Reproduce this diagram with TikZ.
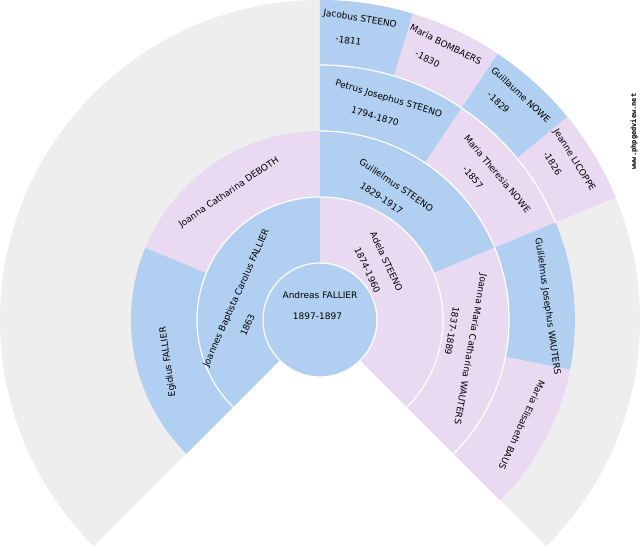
\documentclass[tikz,border=0pt]{standalone}
\usepackage{fontspec}
\setmainfont{DejaVu Sans}
\setmonofont{DejaVu Sans Mono}
\definecolor{maleblue}{HTML}{B1CFF0}
\definecolor{femalepink}{HTML}{E9DAF1}
\definecolor{emptygrey}{HTML}{EEEEEE}

\begin{document}
\begin{tikzpicture}[x=1pt, y=1pt,
    male/.style={fill=maleblue},
    female/.style={fill=femalepink},
    person/.style={inner sep=0pt, font=\fontsize{9}{10}\selectfont},
    ringedge/.style={white, line width=1.2pt}]
    \useasboundingbox (-320,-230) rectangle (320,320);

    % the empty fan
    \fill[emptygrey] (0,0) -- (-45:320) arc[start angle=-45, end angle=225, radius=320] -- cycle;

    % parents
    \fill[male] (90:57) arc[start angle=90, end angle=225, radius=57] -- (225:123) arc[start angle=225, end angle=90, radius=123] -- cycle;
    \fill[female] (-45:57) arc[start angle=-45, end angle=90, radius=57] -- (90:123) arc[start angle=90, end angle=-45, radius=123] -- cycle;

    % grandparents
    \fill[male] (157.5:123) arc[start angle=157.5, end angle=225, radius=123] -- (225:189) arc[start angle=225, end angle=157.5, radius=189] -- cycle;
    \fill[female] (90:123) arc[start angle=90, end angle=157.5, radius=123] -- (157.5:189) arc[start angle=157.5, end angle=90, radius=189] -- cycle;
    \fill[male] (22.5:123) arc[start angle=22.5, end angle=90, radius=123] -- (90:189) arc[start angle=90, end angle=22.5, radius=189] -- cycle;
    \fill[female] (-45:123) arc[start angle=-45, end angle=22.5, radius=123] -- (22.5:189) arc[start angle=22.5, end angle=-45, radius=189] -- cycle;

    % great-grandparents
    \fill[male] (56.25:189) arc[start angle=56.25, end angle=90, radius=189] -- (90:255) arc[start angle=90, end angle=56.25, radius=255] -- cycle;
    \fill[female] (22.5:189) arc[start angle=22.5, end angle=56.25, radius=189] -- (56.25:255) arc[start angle=56.25, end angle=22.5, radius=255] -- cycle;
    \fill[male] (-11.25:189) arc[start angle=-11.25, end angle=22.5, radius=189] -- (22.5:255) arc[start angle=22.5, end angle=-11.25, radius=255] -- cycle;
    \fill[female] (-45:189) arc[start angle=-45, end angle=-11.25, radius=189] -- (-11.25:255) arc[start angle=-11.25, end angle=-45, radius=255] -- cycle;

    % great-great-grandparents
    \fill[male] (73.125:255) arc[start angle=73.125, end angle=90, radius=255] -- (90:320) arc[start angle=90, end angle=73.125, radius=320] -- cycle;
    \fill[female] (56.25:255) arc[start angle=56.25, end angle=73.125, radius=255] -- (73.125:320) arc[start angle=73.125, end angle=56.25, radius=320] -- cycle;
    \fill[male] (39.375:255) arc[start angle=39.375, end angle=56.25, radius=255] -- (56.25:320) arc[start angle=56.25, end angle=39.375, radius=320] -- cycle;
    \fill[female] (22.5:255) arc[start angle=22.5, end angle=39.375, radius=255] -- (39.375:320) arc[start angle=39.375, end angle=22.5, radius=320] -- cycle;

    % white edges between the rings
    \draw[ringedge] (-45:123) arc[start angle=-45, end angle=225, radius=123];
    \draw[ringedge] (-45:189) arc[start angle=-45, end angle=90, radius=189];
    \draw[ringedge] (22.5:255) arc[start angle=22.5, end angle=90, radius=255];

    % the root person
    \draw[ringedge, male] (0,0) circle[radius=57];
    \node[person] (rootname) at (0,24.5) {Andreas FALLIER};
    \node[person] (rootdate) at (-2.5,3.5) {1897-1897};

    % names in the rings
    \node[person, rotate=66] (fname) at (-83.5,22) {Joannes Baptista Carolus FALLIER};
    \node[person, rotate=66] (fdate) at (-72.5,-5) {1863};
    \node[person, rotate=-65] (mname) at (66.5,58.5) {Adela STEENO};
    \node[person, rotate=-65] (mdate) at (47.5,50) {1874-1960};

    \node[person, rotate=98] (ffname) at (-152,-42) {Egidius FALLIER};
    \node[person, rotate=34] (fmname) at (-91,127.5) {Joanna Catharina DEBOTH};
    \node[person, rotate=-34] (mfname) at (76.5,135) {Guilielmus STEENO};
    \node[person, rotate=-34] (mfdate) at (61.5,122) {1829-1917};
    \node[person, rotate=-100] (mmname) at (150,-29) {Joanna Maria Catharina WAUTERS};
    \node[person, rotate=-100] (mmdate) at (132,-11) {1837-1889};

    \node[person, rotate=-16.5] (mffname) at (68.5,221) {Petrus Josephus STEENO};
    \node[person, rotate=-16.5] (mffdate) at (55,203.5) {1794-1870};
    \node[person, rotate=-50] (mfmname) at (177.5,146) {Maria Theresia NOWE};
    \node[person, rotate=-50] (mfmdate) at (153,142.5) {-1857};
    \node[person, rotate=-82] (mmfname) at (227.5,13.5) {Guilielmus Josephus WAUTERS};
    \node[person, rotate=-115] (mmmname) at (202,-105) {Maria Elisabeth BAUS};

    \node[person, rotate=-9] (mfffname) at (40,301) {Jacobus STEENO};
    \node[person, rotate=-9] (mfffdate) at (28.5,279.5) {-1811};
    \node[person, rotate=-27] (mffmname) at (126,275.5) {Maria BOMBAERS};
    \node[person, rotate=-27] (mffmdate) at (107.5,261) {-1830};
    \node[person, rotate=-43] (mfmfname) at (201,225) {Guillaume NOWE};
    \node[person, rotate=-43] (mfmfdate) at (178.5,217.5) {-1829};
    \node[person, rotate=-58] (mfmmname) at (254,160) {Jeanne LICOPPE};
    \node[person, rotate=-58] (mfmmdate) at (232.5,156.5) {-1826};

    \node[inner sep=0pt, rotate=90, font=\ttfamily\bfseries\fontsize{7}{8}\selectfont] (site) at (314,188.5) {www.phpgedview.net};
\end{tikzpicture}
\end{document}
